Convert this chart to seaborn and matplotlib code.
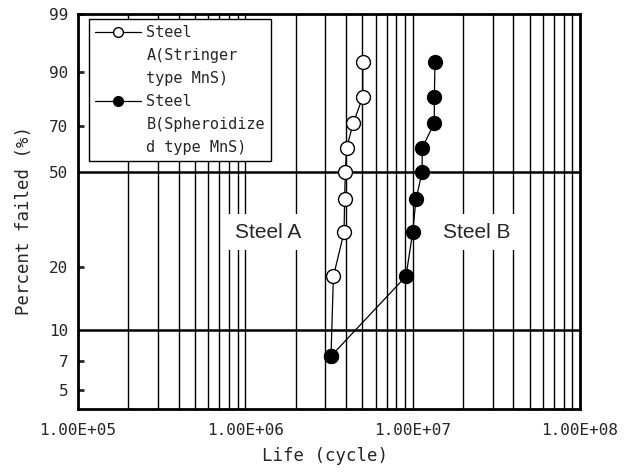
import numpy as np
import pandas as pd
import seaborn as sns
import matplotlib
matplotlib.use("Agg")
import matplotlib.pyplot as plt
from matplotlib.lines import Line2D
from matplotlib.ticker import FixedLocator, FuncFormatter, LogLocator, NullFormatter

# ---------------- data ----------------
percent_failed = [7.4, 18.1, 28.7, 39.4, 50.0, 60.6, 71.3, 81.9, 92.6]
steel_a_life = [3.25e6, 3.36e6, 3.89e6, 3.92e6, 3.96e6, 4.03e6, 4.42e6, 5.03e6, 5.03e6]
steel_b_life = [3.25e6, 9.12e6, 1.00e7, 1.047e7, 1.137e7, 1.142e7, 1.347e7, 1.347e7, 1.36e7]
legend_lines_a = ["Steel", "A(Stringer", "type MnS)"]
legend_lines_b = ["Steel", "B(Spheroidize", "d type MnS)"]
y_major_ticks = [10, 50]
y_minor_ticks = [5, 7, 20, 70, 90, 99]
annotations = ["Steel A", "Steel B"]

df_a = pd.DataFrame({"life": steel_a_life, "pct": percent_failed})
df_b = pd.DataFrame({"life": steel_b_life, "pct": percent_failed})

sns.set_style("white")
mono = "DejaVu Sans Mono"
plt.rcParams["font.family"] = [mono, "DejaVu Sans"]


def weib_fwd(p):
    p = np.clip(np.asarray(p, dtype=float), 1e-6, 100 - 1e-9)
    return np.log(-np.log(1 - p / 100.0))


def weib_inv(w):
    return 100.0 * (1 - np.exp(-np.exp(np.asarray(w, dtype=float))))


fig = plt.figure(figsize=(6.31, 4.73), dpi=100)
ax = fig.add_axes([0.1236, 0.1353, 0.7956, 0.8351])

line_kw = dict(color="black", lw=0.9, marker="o",
               markeredgecolor="black", markeredgewidth=1.0)
sns.lineplot(data=df_a, x="life", y="pct", ax=ax, sort=False, estimator=None,
             markerfacecolor="white", markersize=10, **line_kw)
sns.lineplot(data=df_b, x="life", y="pct", ax=ax, sort=False, estimator=None,
             markerfacecolor="black", markersize=10, **line_kw)

ax.set_xscale("log")
ax.set_yscale("function", functions=(weib_fwd, weib_inv))
ax.set_xlim(1e5, 1e8)
ax.set_ylim(4, 99)

# x axis
ax.xaxis.set_major_locator(LogLocator(base=10, numticks=10))
ax.xaxis.set_minor_locator(LogLocator(base=10, subs=np.arange(2, 10), numticks=100))
ax.xaxis.set_major_formatter(FuncFormatter(lambda v, p: f"{v:.2E}"))
ax.xaxis.set_minor_formatter(NullFormatter())
ax.tick_params(axis="x", which="both", length=0, pad=10, labelsize=11.5)

# y axis
ax.yaxis.set_major_locator(FixedLocator(y_major_ticks))
ax.yaxis.set_minor_locator(FixedLocator(y_minor_ticks))
fmt = FuncFormatter(lambda v, p: f"{v:g}")
ax.yaxis.set_major_formatter(fmt)
ax.yaxis.set_minor_formatter(fmt)
ax.tick_params(axis="y", which="major", length=0, pad=7, labelsize=11.5)
ax.tick_params(axis="y", which="minor", length=4, width=2, direction="in",
               pad=7, labelsize=11.5, left=True)

ax.set_axisbelow(True)
ax.xaxis.grid(True, which="both", color="black", lw=1.0)
ax.yaxis.grid(True, which="major", color="black", lw=1.8)
ax.yaxis.grid(False, which="minor")

for s in ax.spines.values():
    s.set_visible(True)
    s.set_color("black")
    s.set_linewidth(2.0)

ax.set_xlabel("Life (cycle)", fontsize=12.5)
ax.set_ylabel("Percent failed (%)", fontsize=12.5)
ax.xaxis.set_label_coords(0.493, -0.096)
ax.yaxis.set_label_coords(-0.09, 0.478)

# annotations
box = dict(facecolor="white", edgecolor="none", boxstyle="square,pad=0.4")
for label, xf in zip(annotations, [0.378, 0.795]):
    ax.text(xf, 0.448, label, transform=ax.transAxes, ha="center", va="center",
            fontsize=15, family="Liberation Sans", bbox=box, zorder=4)

# legend (each text line its own row, handle on the first row)
h_a = Line2D([], [], markerfacecolor="white", markersize=7, **line_kw)
h_b = Line2D([], [], markerfacecolor="black", markersize=7, **line_kw)
blank = Line2D([], [], linestyle="none")
handles = [h_a, blank, blank, h_b, blank, blank]
labels = legend_lines_a + legend_lines_b
leg = ax.legend(handles, labels, loc="upper left", bbox_to_anchor=(0.0219, 0.987),
                borderaxespad=0, frameon=True, fancybox=False, framealpha=1,
                edgecolor="black", handlelength=3.0, handletextpad=0.35,
                labelspacing=0.52, borderpad=0.4, prop={"family": mono, "size": 11})
leg.get_frame().set_linewidth(1.0)
leg.set_zorder(6)

fig.savefig("out.png", dpi=100)
